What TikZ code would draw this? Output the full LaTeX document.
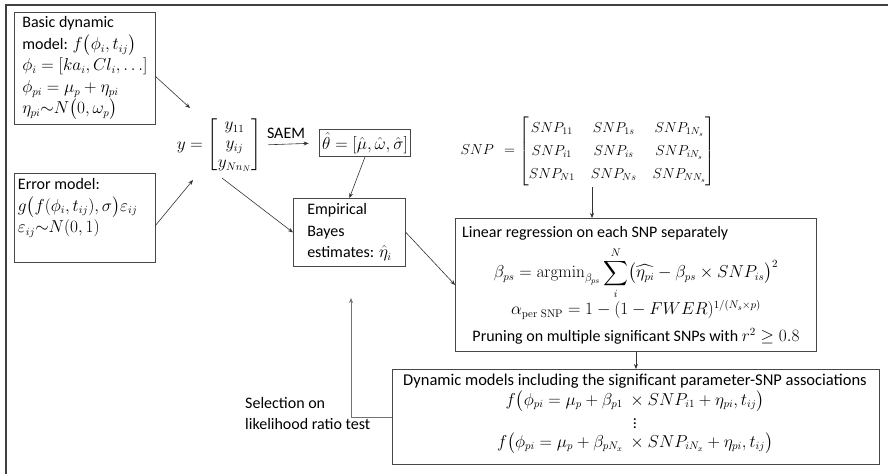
\documentclass[tikz,border=0pt]{standalone}
\usepackage{amsmath}
\usepackage[no-math]{fontspec}
\setmainfont{Carlito}
\usetikzlibrary{arrows.meta,calc}
\begin{document}
\begin{tikzpicture}[x=1pt,y=-1pt,
  font=\fontsize{16}{21.5}\selectfont,
  box/.style={draw=black!72,line width=0.9pt,inner sep=4pt},
  arr/.style={draw=black!80,line width=0.6pt,-{Stealth[length=5pt,width=4pt]}},
  lbl/.style={inner sep=0pt}]
\useasboundingbox (0,0) rectangle (888,474);
% outer frame (top and left)
\draw[black!75,line width=1.3pt] (6,474) -- (6,5) -- (888,5);

% left boxes
\node[box,anchor=north west,minimum width=141pt,minimum height=112pt,align=left,inner xsep=3pt] (basic) at (14,12)
 {Basic dynamic\\
  model: $f\bigl(\phi_i,t_{ij}\bigr)$\\
  $\phi_i=[ka_i,Cl_i,\ldots]$\\
  $\phi_{pi}=\mu_p+\eta_{pi}$\\
  $\eta_{pi}{\sim}N\bigl(0,\omega_p\bigr)$};

\node[box,anchor=north west,minimum width=141pt,minimum height=89pt,inner xsep=3pt] (err) at (14,173)
 {\parbox[t][79pt][t]{134pt}{\raggedright Error model:\\
  $g\bigl(f(\phi_i,t_{ij}),\sigma\bigr)\varepsilon_{ij}$\\
  $\varepsilon_{ij}{\sim}N(0,1)$}};

% y matrix
\node[lbl] (ymat) at (219,145)
 {$y=\renewcommand{\arraystretch}{0.88}\begin{bmatrix}y_{11}\\ y_{ij}\\ y_{Nn_N}\end{bmatrix}$};
\node[lbl] (saem) at (286,133) {SAEM};
\node[box,inner sep=3pt] (theta) at (365,143) {$\hat\theta=[\hat\mu,\hat\omega,\hat\sigma]$};

\node[box,anchor=north west,minimum width=112pt,minimum height=68pt,align=left,inner sep=4pt] (eb) at (293,198)
 {Empirical\\ Bayes\\ estimates: $\hat\eta_i$};

% SNP matrix
\node[lbl,font=\fontsize{14}{21.5}\selectfont] (snp) at (588,151)
 {$SNP\ \ =\renewcommand{\arraystretch}{1.07}\setlength{\arraycolsep}{8pt}\begin{bmatrix}SNP_{11}&SNP_{1s}&SNP_{1N_s}\\ SNP_{i1}&SNP_{is}&SNP_{iN_s}\\ SNP_{N1}&SNP_{Ns}&SNP_{NN_s}\end{bmatrix}$};

% linear regression box
\node[box,anchor=north west,minimum width=361pt,minimum height=133pt] (lin) at (455,218) {};
\node[lbl,anchor=west] (linT) at (462,233) {Linear regression on each SNP separately};
\node[lbl] (linEq) at (636,273)
 {$\displaystyle \beta_{ps}=\mathrm{argmin}_{\beta_{ps}}\sum_{i}^{N}\bigl(\widehat{\eta_{pi}}-\beta_{ps}\times SNP_{is}\bigr)^2$};
\node[lbl] (linA) at (636,310) {$\alpha_{\mathrm{per\ SNP}}=1-(1-FWER)^{1/(N_s\times p)}$};
\node[lbl] (linP) at (636,336) {Pruning on multiple significant SNPs with $r^2\geq 0.8$};

% dynamic models box
\node[box,anchor=north west,minimum width=487pt,minimum height=95pt] (dyn) at (392,369) {};
\node[lbl,font=\fontsize{16.5}{21.5}\selectfont] (dynT) at (635,381) {Dynamic models including the significant parameter-SNP associations};
\node[lbl] (dyn1) at (635,401) {$f\bigl(\phi_{pi}=\mu_p+\beta_{p1}\ \times SNP_{i1}+\eta_{pi},t_{ij}\bigr)$};
\node[lbl] (dynD) at (635,421) {$\vdots$};
\node[lbl] (dyn2) at (635,443) {$f\bigl(\phi_{pi}=\mu_p+\beta_{pN_x}\ \times SNP_{iN_x}+\eta_{pi},t_{ij}\bigr)$};

\node[lbl,anchor=north west,align=left] (sel) at (245,397) {Selection on\\ likelihood ratio test};

% connector ends
\coordinate (b1) at (155,76);
\coordinate (y1) at (190,108);
\coordinate (e1) at (155,226);
\coordinate (y2) at (193,180);
\coordinate (y3) at (222,178);
\coordinate (s1) at (592,187);
\coordinate (fb) at (351,298);

% connectors
\draw[arr] (b1) -- (y1);
\draw[arr] (e1) -- (y2);
\draw[arr] (y3) -- (eb.west);
\draw[arr,shorten <=7pt,shorten >=10pt] (ymat.east) -- (theta.west);
\draw[arr] (theta.south) -- (eb.north);
\draw[arr] (eb.east) -- (lin.west);
\draw[arr] (s1) -- (s1 |- lin.north);
\draw[arr] (lin.south) -- (lin.south |- dyn.north);
\draw[arr,draw=black!55] (dyn.west) -| (fb);
\end{tikzpicture}
\end{document}
